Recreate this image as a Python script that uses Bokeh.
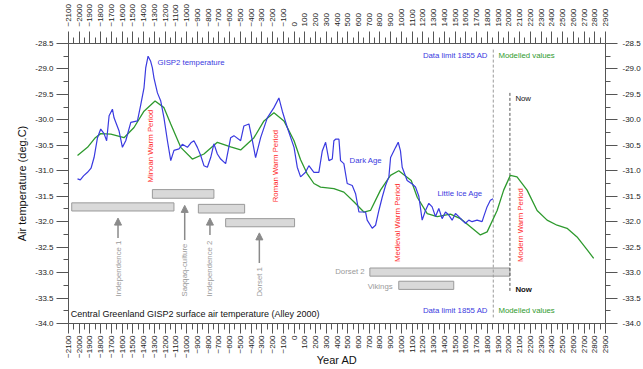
import math
from bokeh.plotting import figure
from bokeh.models import (Range1d, LinearAxis, FixedTicker, PrintfTickFormatter, Label,
                          ColumnDataSource, Arrow, NormalHead)
from bokeh.embed import file_html
from bokeh.resources import INLINE

# ---------------- data ----------------
gisp2_year = [-2016, -1990, -1960, -1923, -1890, -1862, -1830, -1800, -1769, -1745, -1722, -1691,
              -1676, -1629, -1598, -1567, -1520, -1458, -1427, -1397, -1381, -1359, -1335, -1319,
              -1304, -1272, -1241, -1211, -1179, -1148, -1118, -1071, -1040, -993, -960, -932,
              -900, -869, -839, -807, -776, -746, -714, -683, -637, -590, -560, -497, -467, -420,
              -388, -358, -311, -249, -187, -141, -109, -63, 0, 30, 61, 107, 138, 185, 231, 263,
              294, 325, 356, 371, 387, 418, 433, 464, 495, 542, 573, 604, 640, 666, 681, 728,
              759, 790, 821, 852, 883, 899, 946, 970, 991, 1007, 1053, 1100, 1131, 1162, 1193,
              1224, 1255, 1286, 1317, 1348, 1379, 1410, 1441, 1472, 1503, 1534, 1565, 1596, 1627,
              1658, 1704, 1751, 1766, 1797, 1828, 1853]
gisp2_temp = [-31.16, -31.18, -31.10, -31.03, -30.95, -30.74, -30.35, -30.18, -30.27, -30.41, -29.92, -29.79,
              -29.96, -30.22, -30.54, -30.41, -30.05, -30.02, -29.70, -29.37, -28.98, -28.75, -28.85, -28.98,
              -29.18, -29.47, -29.63, -29.96, -30.41, -30.80, -30.60, -30.57, -30.48, -30.54, -30.45, -30.41,
              -30.54, -30.70, -30.90, -30.93, -30.74, -30.47, -30.67, -30.77, -30.86, -30.35, -30.31, -30.41, -30.12, -30.08,
              -30.41, -30.74, -30.35, -29.96, -29.76, -29.57, -29.83, -30.15, -30.54, -30.93, -31.12, -31.03, -30.90, -31.03, -31.03, -30.61,
              -30.44, -30.80, -30.77, -30.41, -30.38, -30.38, -30.80, -30.86, -31.25, -31.29, -31.45, -31.81, -31.81, -31.81, -31.97, -32.13,
              -32.07, -31.78, -31.52, -31.29, -31.12, -30.74, -30.54, -30.44, -30.61, -30.93, -31.19, -31.26, -31.32, -31.50, -31.97,
              -31.78, -31.64, -31.71, -31.90, -31.74, -31.94, -31.81, -31.87, -31.97, -31.84, -31.90, -31.97, -32.03, -31.97,
              -32.00, -31.97, -32.00, -31.90, -31.71, -31.58, -31.55]

model_year = [-2016, -1923, -1850, -1800, -1706, -1583, -1490, -1397, -1294, -1211, -1148, -1055, -947,
              -839, -714, -590, -497, -373, -280, -187, -94, 0, 60, 120, 185, 247, 371, 464, 557, 650,
              712, 805, 898, 975, 1091, 1147, 1240, 1333, 1456, 1549, 1642, 1735, 1798, 1891, 1952,
              2014, 2076, 2170, 2263, 2356, 2449, 2542, 2635, 2728, 2790]
model_temp = [-30.70, -30.54, -30.35, -30.27, -30.28, -30.35, -30.15, -29.83, -29.63, -29.76, -30.08, -30.54, -30.77,
              -30.67, -30.44, -30.53, -30.59, -30.35, -30.02, -29.86, -30.02, -30.41, -30.78, -31.05, -31.25, -31.32, -31.35, -31.42, -31.61, -31.81,
              -31.78, -31.38, -31.09, -31.00, -31.19, -31.52, -31.84, -31.90, -31.85, -31.94, -32.10, -32.26, -32.20, -31.78, -31.38,
              -31.09, -31.12, -31.38, -31.78, -31.97, -32.07, -32.13, -32.30, -32.55, -32.72]

culture_names = ["Independence 1", "Saqqaq-culture", "Independence 2", "Dorset 1", "Dorset 2", "Vikings"]
culture_start = [-2070, -1319, -891, -637, 706, 975]
culture_end = [-1118, -746, -460, 5, 2010, 1487]
culture_bottom = [-31.79, -31.54, -31.83, -32.10, -33.07, -33.33]
culture_top = [-31.63, -31.37, -31.66, -31.94, -32.91, -33.17]

arrow_names = ["Independence 1", "Saqqaq-culture", "Independence 2", "Dorset 1"]
arrow_year = [-1639, -1018, -783, -323]
arrow_tail = [-32.32, -32.36, -32.26, -32.81]
arrow_tip = [-31.93, -31.68, -31.93, -32.22]
arrow_label_y = -33.47

period_names = ["Minoan Warm Period", "Roman Warm Period", "Medieval Warm Period", "Modern Warm Period"]
period_year = [-1334, -172, 963, 2107]
period_base = [-31.23, -31.62, -32.79, -32.79]

data_limit_year = 1855
now_year = 2010

year_ticks = list(range(-2100, 3000, 100))
year_minor = list(range(-2050, 2900, 100))
temp_ticks = [-34.0, -33.5, -33.0, -32.5, -32.0, -31.5, -31.0, -30.5, -30.0, -29.5, -29.0, -28.5]
temp_minor = [-33.75, -33.25, -32.75, -32.25, -31.75, -31.25, -30.75, -30.25, -29.75, -29.25, -28.75]

# ---------------- figure ----------------
FONT = "Liberation Sans"
p = figure(width=643, height=369, x_range=Range1d(-2100, 2900), y_range=Range1d(-34.0, -28.5),
           output_backend="svg", toolbar_location=None,
           x_axis_location=None, y_axis_location=None,
           min_border_left=68, min_border_right=38, min_border_top=43, min_border_bottom=46)
p.outline_line_color = None
p.xgrid.visible = False
p.ygrid.visible = False
p.background_fill_color = "white"
p.border_fill_color = "white"

AX = "#555555"


def style_axis(ax, tick_out, minor_out, standoff):
    ax.axis_line_color = AX
    ax.major_tick_line_color = AX
    ax.minor_tick_line_color = AX
    ax.major_tick_out = tick_out
    ax.major_tick_in = 0
    ax.minor_tick_out = minor_out
    ax.minor_tick_in = 0
    ax.major_label_text_font = FONT
    ax.major_label_text_font_size = "8px"
    ax.major_label_text_color = "#222222"
    ax.major_label_standoff = standoff


for loc in ["below", "above"]:
    ax = LinearAxis(ticker=FixedTicker(ticks=year_ticks, minor_ticks=year_minor))
    if loc == "above":
        style_axis(ax, 12, 6, 5)
    else:
        style_axis(ax, 10, 6, 2)
        ax.axis_label = "Year AD"
        ax.axis_label_text_font = FONT
        ax.axis_label_text_font_size = "11px"
        ax.axis_label_text_font_style = "normal"
        ax.axis_label_text_color = "#111111"
        ax.axis_label_standoff = -7
    ax.major_label_orientation = math.pi / 2
    p.add_layout(ax, loc)

for loc in ["left", "right"]:
    ax = LinearAxis(ticker=FixedTicker(ticks=temp_ticks, minor_ticks=temp_minor),
                    formatter=PrintfTickFormatter(format="%.1f"))
    if loc == "left":
        style_axis(ax, 12, 5, 3)
        ax.axis_label = "Air temperature (deg.C)"
        ax.axis_label_text_font = FONT
        ax.axis_label_text_font_size = "11px"
        ax.axis_label_text_font_style = "normal"
        ax.axis_label_text_color = "#111111"
        ax.axis_label_standoff = 4
    else:
        style_axis(ax, 12, 5, 5)
    p.add_layout(ax, loc)

# culture bars
p.quad(left=culture_start, right=culture_end, bottom=culture_bottom, top=culture_top,
       fill_color="#d9d9d9", line_color="#9a9a9a", line_width=1)

# vertical dashed lines
p.segment(x0=[data_limit_year], x1=[data_limit_year], y0=[-28.62], y1=[-33.88],
          line_color="#9a9a9a", line_dash="3 2", line_width=1)
p.segment(x0=[now_year], x1=[now_year], y0=[-29.47], y1=[-33.39],
          line_color="#555555", line_dash="3 2", line_width=1)

# curves
p.line(model_year, model_temp, line_color="#2e9a2e", line_width=1.3)
p.line(gisp2_year, gisp2_temp, line_color="#3a3ae0", line_width=1.2)

# arrows
asrc = ColumnDataSource(dict(x=arrow_year, y0=arrow_tail, y1=arrow_tip))
p.add_layout(Arrow(end=NormalHead(size=7, fill_color="#8a8a8a", line_color="#8a8a8a"),
                   x_start="x", y_start="y0", x_end="x", y_end="y1", source=asrc,
                   line_color="#8a8a8a", line_width=1.5))


def lab(x, y, text, color, align="left", baseline="middle", angle=0.0, size="7.8px", style="normal"):
    p.add_layout(Label(x=x, y=y, text=text, text_color=color, text_font=FONT,
                       text_font_size=size, text_align=align, text_baseline=baseline,
                       angle=angle, text_font_style=style))


for n, x in zip(arrow_names, arrow_year):
    lab(x, arrow_label_y, n, "#9a9a9a", angle=math.pi / 2)

for n, x, y in zip(period_names, period_year, period_base):
    lab(x, y, n, "#ff2a2a", angle=math.pi / 2)

BLUE = "#3a3ae0"
GREEN = "#2e9a2e"
lab(-1272, -28.87, "GISP2 temperature", BLUE)
lab(517, -30.80, "Dark Age", BLUE)
lab(1336, -31.44, "Little Ice Age", BLUE)
lab(1805, -28.73, "Data limit 1855 AD", BLUE, align="right")
lab(1903, -28.73, "Modelled values", GREEN)
lab(1805, -33.74, "Data limit 1855 AD", BLUE, align="right")
lab(1903, -33.74, "Modelled values", GREEN)
lab(2061, -29.59, "Now", "#111111")
lab(2061, -33.33, "Now", "#111111", style="bold")
lab(658, -32.98, "Dorset 2", "#9a9a9a", align="right")
lab(918, -33.28, "Vikings", "#9a9a9a", align="right")
lab(-2078, -33.82, "Central Greenland GISP2 surface air temperature (Alley 2000)", "#111111", size="9px")

open("out.html", "w").write(file_html(p, INLINE))
